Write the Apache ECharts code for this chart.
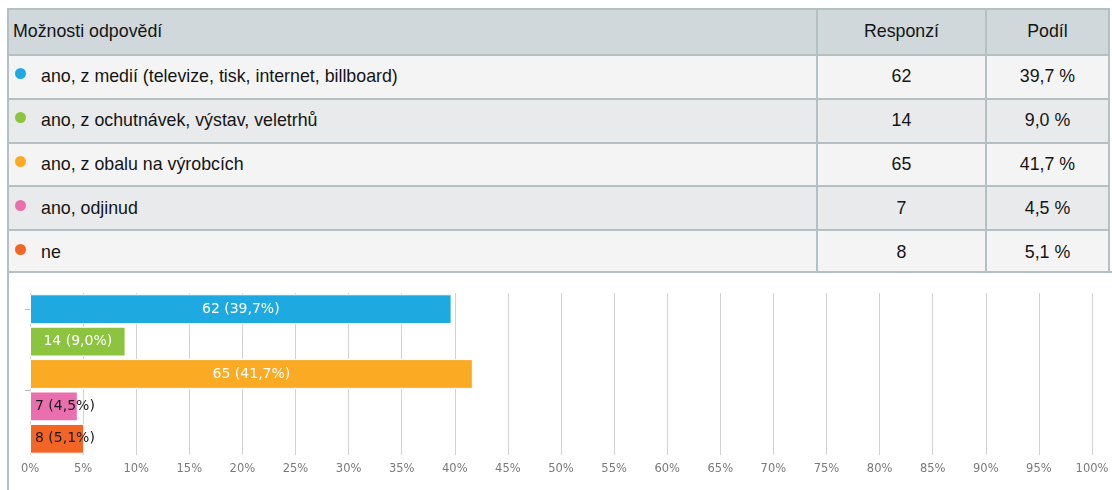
<!DOCTYPE html>
<html>
<head>
<meta charset="utf-8">
<script src="https://cdn.jsdelivr.net/npm/echarts@6/dist/echarts.min.js"></script>
<style>
  html, body { margin: 0; padding: 0; background: #fff; width: 1112px; height: 490px; overflow: hidden; }
  #page { position: relative; width: 1112px; height: 490px; }
  .tbl { position: absolute; left: 7px; top: 8px; width: 1103px; font-family: "Liberation Sans", Arial, sans-serif; font-size: 17.8px; color: #151515; }
  .row { position: absolute; left: 0; width: 1103px; box-sizing: border-box; border: 2px solid #b5c0c4; border-bottom: none; }
  .cell { position: absolute; top: 0; bottom: 0; display: flex; align-items: center; box-sizing: border-box; }
  .c0 { left: 0; width: 807px; padding-left: 4px; }
  .c1 { left: 807px; width: 169px; justify-content: center; border-left: 2px solid #b5c0c4; }
  .c2 { left: 976px; right: 0; justify-content: center; border-left: 2px solid #b5c0c4; }
  .dot { display: inline-block; width: 11px; height: 11px; border-radius: 50%; margin-left: 2px; margin-right: 15px; position: relative; top: -3px; }
  #chartBox { position: absolute; left: 7px; top: 271px; width: 1105px; height: 219px; box-sizing: border-box; border-left: 2px solid #b5c0c4; border-top: 2px solid #b5c0c4; }
  #chart { position: absolute; left: -9px; top: -2px; width: 1112px; height: 219px; }
</style>
</head>
<body>
<div id="page">
  <div class="tbl" id="tbl"></div>
  <div id="chartBox"><div id="chart"></div></div>
</div>
<script>
// Survey answers, response counts and shares
const answers = [
  'ano, z medií (televize, tisk, internet, billboard)',
  'ano, z ochutnávek, výstav, veletrhů',
  'ano, z obalu na výrobcích',
  'ano, odjinud',
  'ne'
];
const counts = [62, 14, 65, 7, 8];
const shares = [39.7, 9.0, 41.7, 4.5, 5.1];
const colors = ['#1fa9e1', '#8cc43f', '#fbaa24', '#e96fae', '#f26524'];
const headers = ['Možnosti odpovědí', 'Responzí', 'Podíl'];

const fmt = v => v.toFixed(1).replace('.', ',');

// summary table
const tbl = document.getElementById('tbl');
const rowTops = [0, 45.5, 89.5, 133.5, 177, 221];
const rowBgs = ['#d0d8db', '#f4f4f4', '#e8eaeb', '#f4f4f4', '#e8eaeb', '#f4f4f4'];
for (let r = 0; r < 6; r++) {
  const row = document.createElement('div');
  row.className = 'row';
  row.style.top = rowTops[r] + 'px';
  row.style.height = (r < 5 ? rowTops[r + 1] - rowTops[r] : 44) + 'px';
  row.style.background = rowBgs[r];
  let c0, c1, c2;
  if (r === 0) {
    c0 = headers[0]; c1 = headers[1]; c2 = headers[2];
  } else {
    const i = r - 1;
    c0 = '<span class="dot" style="background:' + colors[i] + '"></span>' + answers[i];
    c1 = String(counts[i]);
    c2 = fmt(shares[i]) + ' %';
  }
  row.innerHTML = '<div class="cell c0">' + c0 + '</div><div class="cell c1">' + c1 + '</div><div class="cell c2">' + c2 + '</div>';
  tbl.appendChild(row);
}

// bar chart of shares
const chart = echarts.init(document.getElementById('chart'));
const bars = shares.map((v, i) => {
  const small = v < 8;
  return {
    value: v,
    itemStyle: { color: colors[i] },
    label: small
      ? { position: 'insideLeft', distance: 5, color: '#1a1a1a' }
      : { position: 'inside', color: '#fff' }
  };
});
chart.setOption({
  animation: false,
  grid: { left: 30, right: 20, top: 22, bottom: 35 },
  xAxis: {
    type: 'value', min: 0, max: 100, interval: 5,
    axisLine: { show: false },
    axisTick: { show: false },
    splitLine: { lineStyle: { color: '#d2d2d2', width: 1 } },
    axisLabel: {
      formatter: v => v + '%',
      color: '#7a7a7a', fontFamily: 'DejaVu Sans', fontSize: 11.5, margin: 8
    }
  },
  yAxis: [{
    type: 'category', inverse: true, data: answers,
    axisLine: { show: false }, axisTick: { show: false }, axisLabel: { show: false }
  }, {
    type: 'value', min: 0, max: 5, inverse: true, position: 'left',
    axisLine: { show: false }, axisLabel: { show: false }, splitLine: { show: false },
    axisTick: { show: true, length: 5, lineStyle: { color: '#bbb' }, customValues: [0.5, 3] }
  }],
  series: [{
    type: 'bar', yAxisIndex: 0,
    data: bars,
    barCategoryGap: '8%',
    itemStyle: { borderColor: '#fff', borderWidth: 1 },
    label: {
      show: true,
      fontFamily: 'DejaVu Sans', fontSize: 14,
      formatter: p => counts[p.dataIndex] + ' (' + fmt(shares[p.dataIndex]) + '%)'
    }
  }]
});
</script>
</body>
</html>
